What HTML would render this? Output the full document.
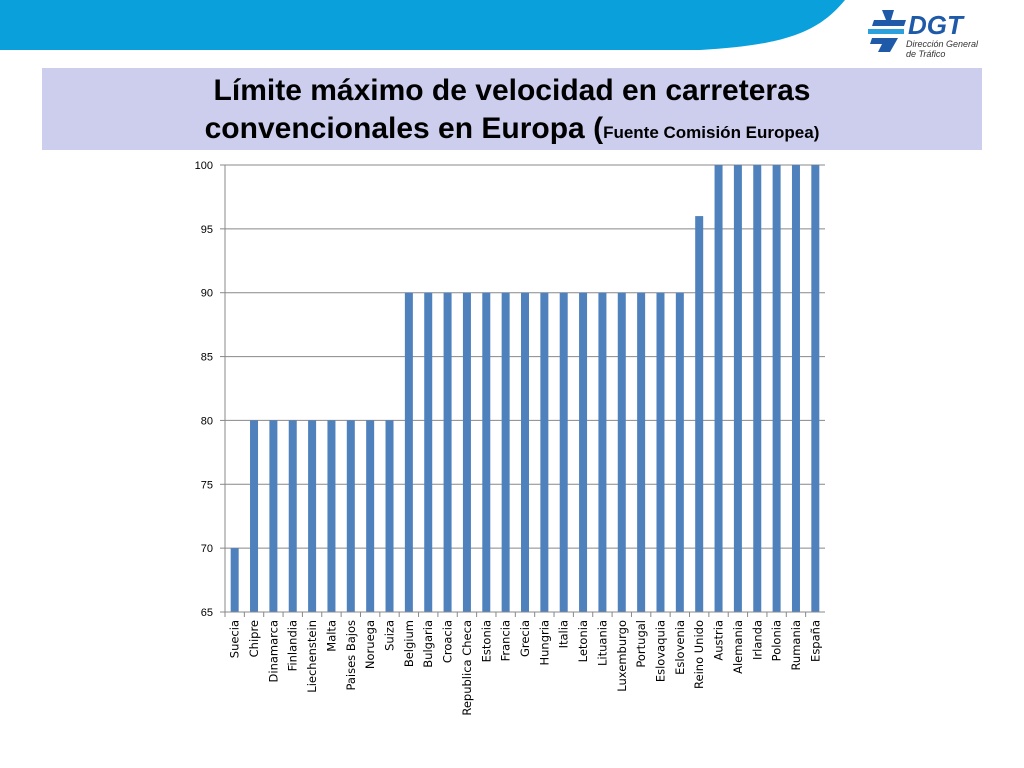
<!DOCTYPE html>
<html><head><meta charset="utf-8"><style>
body{margin:0;width:1024px;height:768px;background:#fff;overflow:hidden;font-family:"Liberation Sans",sans-serif;position:relative}
</style></head><body>
<svg width="1024" height="60" style="position:absolute;left:0;top:0">
<path d="M0 0 H845 C820 30 790 45 700 50 H0 Z" fill="#0aa0dc"/>
</svg>
<div style="position:absolute;left:868px;top:6px;width:120px;height:56px">
<svg width="40" height="46" style="position:absolute;left:0;top:2px"><path d="M14 2 H26 L23 12 H38 L36 18 H4 L6 12 H18 Z" fill="#1e5aa8"/><rect x="0" y="21" width="36" height="5" fill="#2aa0dc"/><path d="M4 30 H30 L22 44 H10 L14 36 H2 Z" fill="#1e5aa8"/></svg>
<div style="position:absolute;left:40px;top:4px;font:italic bold 26px 'Liberation Sans',sans-serif;color:#1e5aa8">DGT</div>
<div style="position:absolute;left:38px;top:33px;font:italic 9px 'Liberation Sans',sans-serif;color:#333;line-height:10px">Dirección General<br>de Tráfico</div>
</div>
<div style="position:absolute;left:42px;top:68px;width:940px;height:82px;background:#cdcdee;text-align:center;font-weight:bold;font-size:30px;line-height:38px;padding-top:4px;box-sizing:border-box">
<span>Límite máximo de velocidad en carreteras<br>convencionales en Europa (<span style="font-size:17px">Fuente Comisión Europea)</span></span>
</div>
<svg id="chart" width="1024" height="768" style="position:absolute;left:0;top:0"></svg>
<script>
const categories=["Suecia","Chipre","Dinamarca","Finlandia","Liechenstein","Malta","Paises Bajos","Noruega","Suiza","Belgium","Bulgaria","Croacia","Republica Checa","Estonia","Francia","Grecia","Hungria","Italia","Letonia","Lituania","Luxemburgo","Portugal","Eslovaquia","Eslovenia","Reino Unido","Austria","Alemania","Irlanda","Polonia","Rumania","España"];
const values=[70,80,80,80,80,80,80,80,80,90,90,90,90,90,90,90,90,90,90,90,90,90,90,90,96,100,100,100,100,100,100];
const yTicks=[65,70,75,80,85,90,95,100];
const svg=document.getElementById('chart'),NS='http://www.w3.org/2000/svg';
const L=225,R=825,T=165,B=612,yMin=65,yMax=100;
const y=v=>B-(v-yMin)/(yMax-yMin)*(B-T);
const step=(R-L)/categories.length;
const x=i=>L+step*(i+0.5);
function mk(t,a){const e=document.createElementNS(NS,t);for(const k in a)e.setAttribute(k,a[k]);svg.appendChild(e);return e;}
yTicks.forEach(v=>{
 const g=mk('line',{x1:L,x2:R,y1:y(v),y2:y(v),stroke:'#888','stroke-width':1});
 
 
 const tk=mk('line',{x1:L-5,x2:L,y1:y(v),y2:y(v),stroke:'#888'});
 
 
 const t=mk('text',{x:L-12,y:y(v)+4,'text-anchor':'end','font-size':11,'font-family':'Liberation Sans,sans-serif',fill:'#000'});
 t.textContent=v;
 
 
});
const ax=mk('line',{x1:L,x2:L,y1:T,y2:B,stroke:'#888'});


categories.forEach((c,i)=>{
 const b=mk('rect',{x:x(i)-4,y:y(values[i]),width:8,height:B-y(values[i]),fill:'#4f81bd'});
 
 
 const tk=mk('line',{x1:L+step*i,x2:L+step*i,y1:B,y2:B+5,stroke:'#888'});
 
 
 const t=mk('text',{transform:`translate(${x(i)+4},${B+8}) rotate(-90)`,'text-anchor':'end','font-size':11.5,'font-family':'DejaVu Sans,Liberation Sans,sans-serif',fill:'#000'});
 t.textContent=c;
 
 
});
const xa=mk('line',{x1:L,x2:R,y1:B,y2:B,stroke:'#888'});


</script>
</body></html>
